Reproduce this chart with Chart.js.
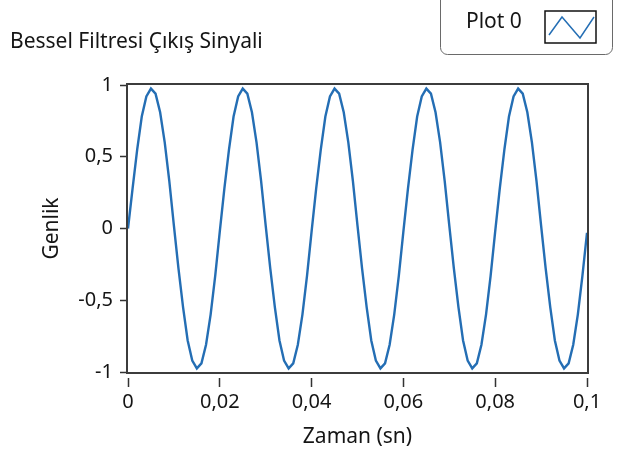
<!DOCTYPE html>
<html>
<head>
<meta charset="utf-8">
<script src="https://cdn.jsdelivr.net/npm/chart.js@4.4.0/dist/chart.umd.min.js"></script>
<style>
    html, body { margin: 0; padding: 0; background: #fff; }
</style>
</head>
<body>
<canvas id="graph" width="620" height="454"></canvas>
<script>
// Graph texts
const chartTitle = 'Bessel Filtresi Çıkış Sinyali';
const plotName = 'Plot 0';
const xTitle = 'Zaman (sn)';
const yTitle = 'Genlik';

// Sample times in ms
const timeMs = [
    0, 1, 2, 3, 4, 5, 6, 7, 8, 9, 10, 11, 12, 13, 14, 15, 16, 17, 18, 19,
    20, 21, 22, 23, 24, 25, 26, 27, 28, 29, 30, 31, 32, 33, 34, 35, 36, 37, 38, 39,
    40, 41, 42, 43, 44, 45, 46, 47, 48, 49, 50, 51, 52, 53, 54, 55, 56, 57, 58, 59,
    60, 61, 62, 63, 64, 65, 66, 67, 68, 69, 70, 71, 72, 73, 74, 75, 76, 77, 78, 79,
    80, 81, 82, 83, 84, 85, 86, 87, 88, 89, 90, 91, 92, 93, 94, 95, 96, 97, 98, 99,
    100
];

// Filter output amplitude at each sample
const amplitude = [
    0, 0.28, 0.55, 0.78, 0.92, 0.975, 0.94, 0.81, 0.60, 0.33, 0.02, -0.28, -0.55, -0.78, -0.92, -0.975, -0.94, -0.81, -0.60, -0.33,
    -0.02, 0.28, 0.55, 0.78, 0.92, 0.975, 0.94, 0.81, 0.60, 0.33, 0.02, -0.28, -0.55, -0.78, -0.92, -0.975, -0.94, -0.81, -0.60, -0.33,
    -0.02, 0.28, 0.55, 0.78, 0.92, 0.975, 0.94, 0.81, 0.60, 0.33, 0.02, -0.28, -0.55, -0.78, -0.92, -0.975, -0.94, -0.81, -0.60, -0.33,
    -0.02, 0.28, 0.55, 0.78, 0.92, 0.975, 0.94, 0.81, 0.60, 0.33, 0.02, -0.28, -0.55, -0.78, -0.92, -0.975, -0.94, -0.81, -0.60, -0.33,
    -0.02, 0.28, 0.55, 0.78, 0.92, 0.975, 0.94, 0.81, 0.60, 0.33, 0.02, -0.28, -0.55, -0.78, -0.92, -0.975, -0.94, -0.81, -0.60, -0.33,
    -0.03
];

// Tick values
const xTicks = [0, 0.02, 0.04, 0.06, 0.08, 0.1];
const yTicks = [-1, -0.5, 0, 0.5, 1];

const lineColor = 'rgb(36, 110, 180)';
const textColor = '#151515';
const fontFamily = '"Noto Sans", "Open Sans", sans-serif';

// decimal comma like the original
function commaLabel(v) {
    return String(v).replace('.', ',');
}

// frame, title and legend box of the LabVIEW graph
const graphDecor = {
    id: 'graphDecor',
    beforeDatasetsDraw(chart) {
        const {ctx, chartArea: a} = chart;
        ctx.save();
        ctx.strokeStyle = '#3c3c3c';
        ctx.lineWidth = 2;
        ctx.strokeRect(a.left - 1, a.top - 1, a.right - a.left + 2, a.bottom - a.top + 2);
        ctx.restore();
    },
    afterDraw(chart) {
        const ctx = chart.ctx;
        ctx.save();
        // title
        ctx.fillStyle = textColor;
        ctx.font = '21px ' + fontFamily;
        ctx.textBaseline = 'middle';
        ctx.textAlign = 'left';
        ctx.fillText(chartTitle, 10, 42);

        // legend frame
        ctx.strokeStyle = '#6a6a6a';
        ctx.lineWidth = 1;
        ctx.beginPath();
        ctx.roundRect(440.5, -10.5, 172, 65, 7);
        ctx.stroke();
        ctx.fillText(chart.data.datasets[0].label, 466, 22);

        // legend swatch
        ctx.fillStyle = '#fff';
        ctx.fillRect(545, 11, 51, 32);
        ctx.strokeStyle = '#111';
        ctx.lineWidth = 1.5;
        ctx.strokeRect(545, 11, 51, 32);
        ctx.strokeStyle = lineColor;
        ctx.lineWidth = 1.5;
        ctx.beginPath();
        ctx.moveTo(549, 35);
        ctx.lineTo(562, 17);
        ctx.lineTo(580, 38);
        ctx.lineTo(594, 17);
        ctx.stroke();
        ctx.restore();
    }
};

const ctx = document.getElementById('graph').getContext('2d');
const graph = new Chart(ctx, {
    type: 'line',
    data: {
        datasets: [{
            label: plotName,
            data: timeMs.map((t, i) => ({x: t / 1000, y: amplitude[i]})),
            borderColor: lineColor,
            borderWidth: 2.4,
            pointRadius: 0,
            tension: 0,
            fill: false
        }]
    },
    options: {
        responsive: false,
        animation: false,
        devicePixelRatio: 1,
        layout: { padding: { top: 85, right: 33, left: 0, bottom: 0 } },
        plugins: {
            legend: { display: false },
            tooltip: { enabled: false }
        },
        scales: {
            x: {
                type: 'linear',
                min: 0,
                max: 0.1,
                afterFit: s => { s.height = 82; },
                afterBuildTicks: s => { s.ticks = xTicks.map(v => ({value: v})); },
                border: { display: false },
                grid: {
                    drawOnChartArea: false,
                    drawTicks: true,
                    tickLength: 15,
                    tickColor: '#333',
                    tickWidth: 1.5,
                    tickBorderDash: [0, 6, 9, 100]
                },
                ticks: {
                    padding: 3,
                    maxRotation: 0,
                    color: textColor,
                    font: { family: fontFamily, size: 20 },
                    callback: v => commaLabel(v)
                },
                title: {
                    display: true,
                    text: xTitle,
                    color: textColor,
                    font: { family: fontFamily, size: 21 },
                    padding: { top: 0, bottom: 4 }
                }
            },
            y: {
                min: -1,
                max: 1,
                afterFit: s => { s.width = 128; },
                afterBuildTicks: s => { s.ticks = yTicks.map(v => ({value: v})); },
                border: { display: false },
                grid: {
                    drawOnChartArea: false,
                    drawTicks: true,
                    tickLength: 11,
                    tickColor: '#333',
                    tickWidth: 1.5,
                    tickBorderDash: [0, 3, 8, 100]
                },
                ticks: {
                    padding: 4,
                    color: textColor,
                    font: { family: fontFamily, size: 20 },
                    callback: v => commaLabel(v)
                },
                title: {
                    display: true,
                    text: yTitle,
                    color: textColor,
                    font: { family: fontFamily, size: 21 },
                    padding: { top: 39, bottom: 0 }
                }
            }
        }
    },
    plugins: [graphDecor]
});
</script>
</body>
</html>
